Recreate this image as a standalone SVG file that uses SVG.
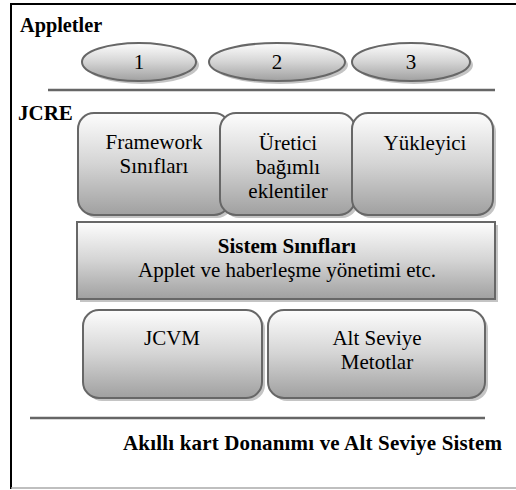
<svg xmlns="http://www.w3.org/2000/svg" width="516" height="490" viewBox="0 0 516 490">
<defs>
<linearGradient id="g" x1="0" y1="0" x2="0" y2="1">
<stop offset="0" stop-color="#fdfdfd"/>
<stop offset="0.5" stop-color="#d4d4d4"/>
<stop offset="1" stop-color="#a0a0a0"/>
</linearGradient>
<style>
.n{fill:url(#g);stroke:#676767;stroke-width:2}
.s{fill:#c4c4c4}
text{font-family:'Liberation Serif','DejaVu Serif',serif;font-size:21px;fill:#000}
.c{text-anchor:middle}
.b{font-weight:bold}
.ln{stroke:#666;stroke-width:2.5}
</style>
</defs>
<rect x="0" y="0" width="516" height="490" fill="#fff"/>
<g id="frame">
<line x1="11" y1="4" x2="516" y2="4" stroke="#000" stroke-width="2"/>
<line x1="11" y1="3" x2="11" y2="489" stroke="#000" stroke-width="2"/>
<line x1="11" y1="488" x2="516" y2="488" stroke="#aaa" stroke-width="1.5"/>
</g>
<g id="connectors">
<line class="ln" x1="48" y1="90" x2="495" y2="90"/>
<line class="ln" x1="30" y1="418" x2="485" y2="418"/>
</g>
<text class="b" x="20" y="32" style="font-size:20.3px">Appletler</text>
<text class="b" x="18" y="120">JCRE</text>
<g id="a1">
<ellipse class="s" cx="142" cy="65" rx="57" ry="19"/>
<ellipse class="n" cx="139" cy="62" rx="57" ry="19"/>
<text class="c" x="139" y="69">1</text>
</g>
<g id="a2">
<ellipse class="s" cx="280" cy="65" rx="68" ry="19"/>
<ellipse class="n" cx="277" cy="62" rx="68" ry="19"/>
<text class="c" x="277" y="69">2</text>
</g>
<g id="a3">
<ellipse class="s" cx="414" cy="65" rx="59" ry="19"/>
<ellipse class="n" cx="411" cy="62" rx="59" ry="19"/>
<text class="c" x="411" y="69">3</text>
</g>
<g id="framework">
<rect class="s" x="81" y="116" width="152" height="102" rx="16"/>
<rect class="n" x="78" y="113" width="152" height="102" rx="16"/>
<text class="c" x="154" y="149">Framework</text>
<text class="c" x="154" y="173">Sınıfları</text>
</g>
<g id="uretici">
<rect class="s" x="223" y="116" width="135" height="102" rx="16"/>
<rect class="n" x="220" y="113" width="135" height="102" rx="16"/>
<text class="c" x="288" y="150">Üretici</text>
<text class="c" x="288" y="174">bağımlı</text>
<text class="c" x="288" y="198">eklentiler</text>
</g>
<g id="yukleyici">
<rect class="s" x="355" y="116" width="141" height="102" rx="16"/>
<rect class="n" x="352" y="113" width="141" height="102" rx="16"/>
<text class="c" x="425" y="150">Yükleyici</text>
</g>
<g id="sistem">
<rect class="s" x="80" y="225" width="418" height="77"/>
<rect class="n" x="77" y="222" width="418" height="77"/>
<text class="c b" x="287" y="253">Sistem Sınıfları</text>
<text class="c" x="287" y="277">Applet ve haberleşme yönetimi etc.</text>
</g>
<g id="jcvm">
<rect class="s" x="86" y="313" width="179" height="88" rx="16"/>
<rect class="n" x="83" y="310" width="179" height="88" rx="16"/>
<text class="c" x="172" y="345">JCVM</text>
</g>
<g id="alt">
<rect class="s" x="271" y="313" width="217" height="88" rx="16"/>
<rect class="n" x="268" y="310" width="217" height="88" rx="16"/>
<text class="c" x="377" y="345">Alt Seviye</text>
<text class="c" x="377" y="369">Metotlar</text>
</g>
<text class="b" x="123" y="450" textLength="379" lengthAdjust="spacing">Akıllı kart Donanımı ve Alt Seviye Sistem</text>
</svg>
